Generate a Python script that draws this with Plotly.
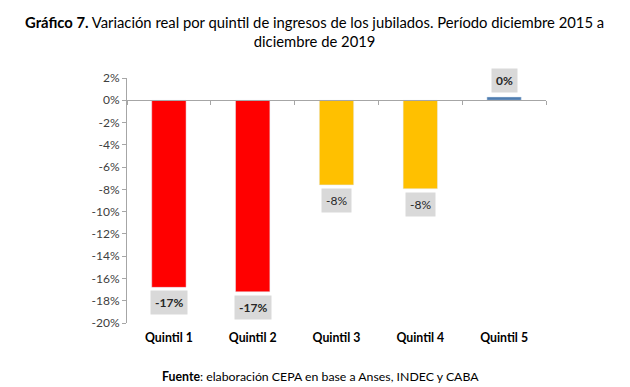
import plotly.graph_objects as go

categories = ["Quintil 1", "Quintil 2", "Quintil 3", "Quintil 4", "Quintil 5"]
values = [-16.8, -17.2, -7.6, -7.95, 0.3]
colors = ["#ff0000", "#ff0000", "#ffc000", "#ffc000", "#4f7db0"]
label_bold = [True, True, False, False, True]
y_ticks = list(range(-20, 3, 2))

FONT = "Lato"
fig = go.Figure()
fig.add_trace(go.Bar(x=categories, y=values, marker_color=colors, width=0.41,
                     xaxis="x", yaxis="y", hoverinfo="skip"))
fig.add_trace(go.Scatter(x=categories, y=[None] * len(categories), xaxis="x2", yaxis="y",
                         mode="markers", showlegend=False, hoverinfo="skip"))

for c, v, b in zip(categories, values, label_bold):
    txt = f"{round(v):.0f}%"
    fig.add_annotation(x=c, y=v, xref="x", yref="y",
                       text=f"<b>{txt}</b>" if b else txt, showarrow=False,
                       yanchor="top" if v < 0 else "bottom",
                       yshift=-3 if v < 0 else 4,
                       bgcolor="#d9d9d9", borderpad=4,
                       font=dict(family=FONT, size=12, color="#262626"))

fig.add_annotation(xref="paper", yref="paper", x=0.5, y=1, yshift=67, xanchor="center", yanchor="top",
                   xshift=-22,
                   text="<b>Gráfico 7.</b> Variación real por quintil de ingresos de los jubilados. Período diciembre 2015 a<br>diciembre de 2019",
                   showarrow=False, align="center",
                   font=dict(family=FONT, size=14.8, color="#000000"))
fig.add_annotation(xref="paper", yref="paper", x=0.5, y=0, yshift=-44, xanchor="center", yanchor="top",
                   xshift=-16,
                   text="<b>Fuente</b>: elaboración CEPA en base a Anses, INDEC y CABA",
                   showarrow=False, font=dict(family=FONT, size=12.3, color="#000000"))

fig.update_layout(
    width=630, height=387,
    margin=dict(l=127, r=84, t=78, b=64),
    paper_bgcolor="white", plot_bgcolor="white",
    showlegend=False, bargap=0.59,
    font=dict(family=FONT, size=12, color="#404040"),
    xaxis=dict(type="category", anchor="free", position=20 / 22,
               showline=True, linecolor="#a6a6a6", linewidth=1,
               ticks="outside", tickson="boundaries", ticklen=4, tickcolor="#a6a6a6",
               showticklabels=False, showgrid=False, zeroline=False,
               range=[-0.5, 4.5]),
    xaxis2=dict(type="category", overlaying="x", matches="x", anchor="y", side="bottom",
                showline=False, ticks="", showgrid=False, zeroline=False,
                tickvals=categories, ticktext=[f"<b>{c}</b>" for c in categories],
                tickfont=dict(family=FONT, size=12.3, color="#000000"),
                ticklabelstandoff=6),
    yaxis=dict(range=[-20, 2], tickvals=y_ticks, ticktext=[f"{t}%" for t in y_ticks],
               showline=True, linecolor="#a6a6a6", linewidth=1,
               ticks="outside", ticklen=4, tickcolor="#a6a6a6",
               showgrid=False, zeroline=False,
               tickfont=dict(family=FONT, size=12, color="#404040")),
)

fig.write_html("out.html", config={"displayModeBar": False},
               post_script="document.body.style.margin='0';")
